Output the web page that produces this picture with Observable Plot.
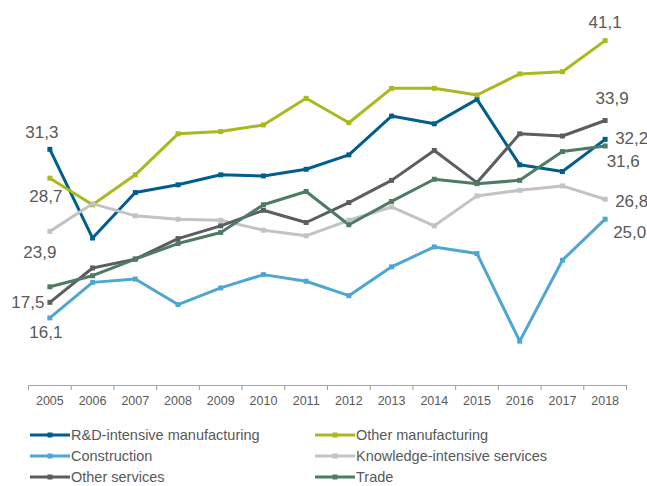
<!DOCTYPE html>
<html>
<head>
<meta charset="utf-8">
<script src="https://cdn.jsdelivr.net/npm/d3@7"></script>
<script src="https://cdn.jsdelivr.net/npm/@observablehq/plot@0.6"></script>
<style>
  html, body { margin: 0; padding: 0; background: #fff; }
  body { width: 647px; height: 486px; overflow: hidden; font-family: "Liberation Sans", Arial, sans-serif; }
  #legend { display: grid; grid-template-columns: 285px 285px; padding: 13px 0 0 30px; row-gap: 7px; }
  .item { display: flex; align-items: center; height: 14px; line-height: 14px; font-size: 14.5px; color: #595959; }
  .item svg { margin-right: 1px; }
</style>
</head>
<body>
<div id="chart"></div>
<div id="legend"></div>
<script>
const years = [2005, 2006, 2007, 2008, 2009, 2010, 2011, 2012, 2013, 2014, 2015, 2016, 2017, 2018];
const seriesNames = ["R&D-intensive manufacturing", "Other manufacturing", "Construction", "Knowledge-intensive services", "Other services", "Trade"];
const seriesColors = ["#005e8e", "#a9b91f", "#4ea6d1", "#c1c3c5", "#5a5e63", "#4d7b63"];
const rdManufacturing = [31.3, 23.3, 27.4, 28.1, 29.0, 28.9, 29.5, 30.8, 34.3, 33.6, 35.8, 29.9, 29.3, 32.2];
const otherManufacturing = [28.7, 26.3, 29.0, 32.7, 32.9, 33.5, 35.9, 33.7, 36.8, 36.8, 36.2, 38.1, 38.3, 41.1];
const construction = [16.1, 19.3, 19.6, 17.3, 18.8, 20.0, 19.4, 18.1, 20.7, 22.5, 21.9, 14.0, 21.3, 25.0];
const knowledgeServices = [23.9, 26.4, 25.3, 25.0, 24.9, 24.0, 23.5, 24.9, 26.1, 24.4, 27.1, 27.6, 28.0, 26.8];
const otherServices = [17.5, 20.6, 21.4, 23.25, 24.4, 25.8, 24.7, 26.5, 28.5, 31.2, 28.3, 32.7, 32.5, 33.9];
const trade = [18.9, 19.9, 21.4, 22.8, 23.8, 26.3, 27.5, 24.5, 26.6, 28.6, 28.2, 28.5, 31.1, 31.6];

const seriesValues = [rdManufacturing, otherManufacturing, construction, knowledgeServices, otherServices, trade];
const rows = seriesNames.flatMap((name, i) => years.map((year, j) => ({name, year, value: seriesValues[i][j]})));
const fmt = v => v.toFixed(1).replace(".", ",");

// end labels (which series are labelled, and their offsets)
const startLabelStyle = {
  "R&D-intensive manufacturing": {dx: -8, dy: -17},
  "Other manufacturing": {dx: -4, dy: 18},
  "Knowledge-intensive services": {dx: -10, dy: 21},
  "Other services": {dx: -22, dy: 0},
  "Construction": {dx: -4, dy: 15}
};
const endLabelStyle = {
  "Other manufacturing": {dx: 0, dy: -18, anchor: "middle"},
  "Other services": {dx: 7, dy: -22, anchor: "middle"},
  "R&D-intensive manufacturing": {dx: 10, dy: -1, anchor: "start"},
  "Trade": {dx: 1.5, dy: 16, anchor: "start"},
  "Knowledge-intensive services": {dx: 10, dy: 2, anchor: "start"},
  "Construction": {dx: 8, dy: 13, anchor: "start"}
};
const first = years[0], last = years[years.length - 1];
const labelMarks = [];
for (const [name, s] of Object.entries(startLabelStyle)) {
  const d = rows.filter(r => r.name === name && r.year === first);
  labelMarks.push(Plot.text(d, {x: "year", y: "value", text: r => fmt(r.value), dx: s.dx, dy: s.dy, textAnchor: "middle", fill: "#595959", fontSize: 17}));
}
for (const [name, s] of Object.entries(endLabelStyle)) {
  const d = rows.filter(r => r.name === name && r.year === last);
  labelMarks.push(Plot.text(d, {x: "year", y: "value", text: r => fmt(r.value), dx: s.dx, dy: s.dy, textAnchor: s.anchor, fill: "#595959", fontSize: 17}));
}

const boundaries = d3.range(years.length + 1).map(i => years[0] - 0.5 + i);

const chart = Plot.plot({
  width: 647,
  height: 415,
  marginLeft: 28,
  marginRight: 21,
  marginTop: 0,
  marginBottom: 30,
  style: {fontFamily: "Liberation Sans, Arial, sans-serif", color: "#9a9a9a", background: "#fff"},
  x: {domain: [years[0] - 0.5, last + 0.5], ticks: boundaries, tickSize: 5, tickFormat: () => "", label: null},
  y: {domain: [10, 44], range: [385, 8], axis: null},
  color: {domain: seriesNames, range: seriesColors},
  marks: [
    Plot.ruleY([10], {stroke: "#a6a6a6", strokeWidth: 1}),
    Plot.text(years, {x: d => d, y: () => 10, dy: 15, text: d => String(d), fill: "#595959", fontSize: 12.5, textAnchor: "middle"}),
    Plot.line(rows, {x: "year", y: "value", z: "name", stroke: "name", strokeWidth: 3, strokeLinejoin: "round"}),
    Plot.dot(rows, {x: "year", y: "value", fill: "name", symbol: "square", r: 2.8}),
    ...labelMarks
  ]
});
document.getElementById("chart").appendChild(chart);

// legend
const legend = d3.select("#legend");
seriesNames.forEach((name, i) => {
  const item = legend.append("div").attr("class", "item");
  const svg = item.append("svg").attr("width", 40).attr("height", 10);
  svg.append("line").attr("x1", 0).attr("x2", 40).attr("y1", 5).attr("y2", 5).attr("stroke", seriesColors[i]).attr("stroke-width", 3);
  svg.append("rect").attr("x", 17.5).attr("y", 2.5).attr("width", 5).attr("height", 5).attr("fill", seriesColors[i]);
  item.append("span").text(name);
});
</script>
</body>
</html>
